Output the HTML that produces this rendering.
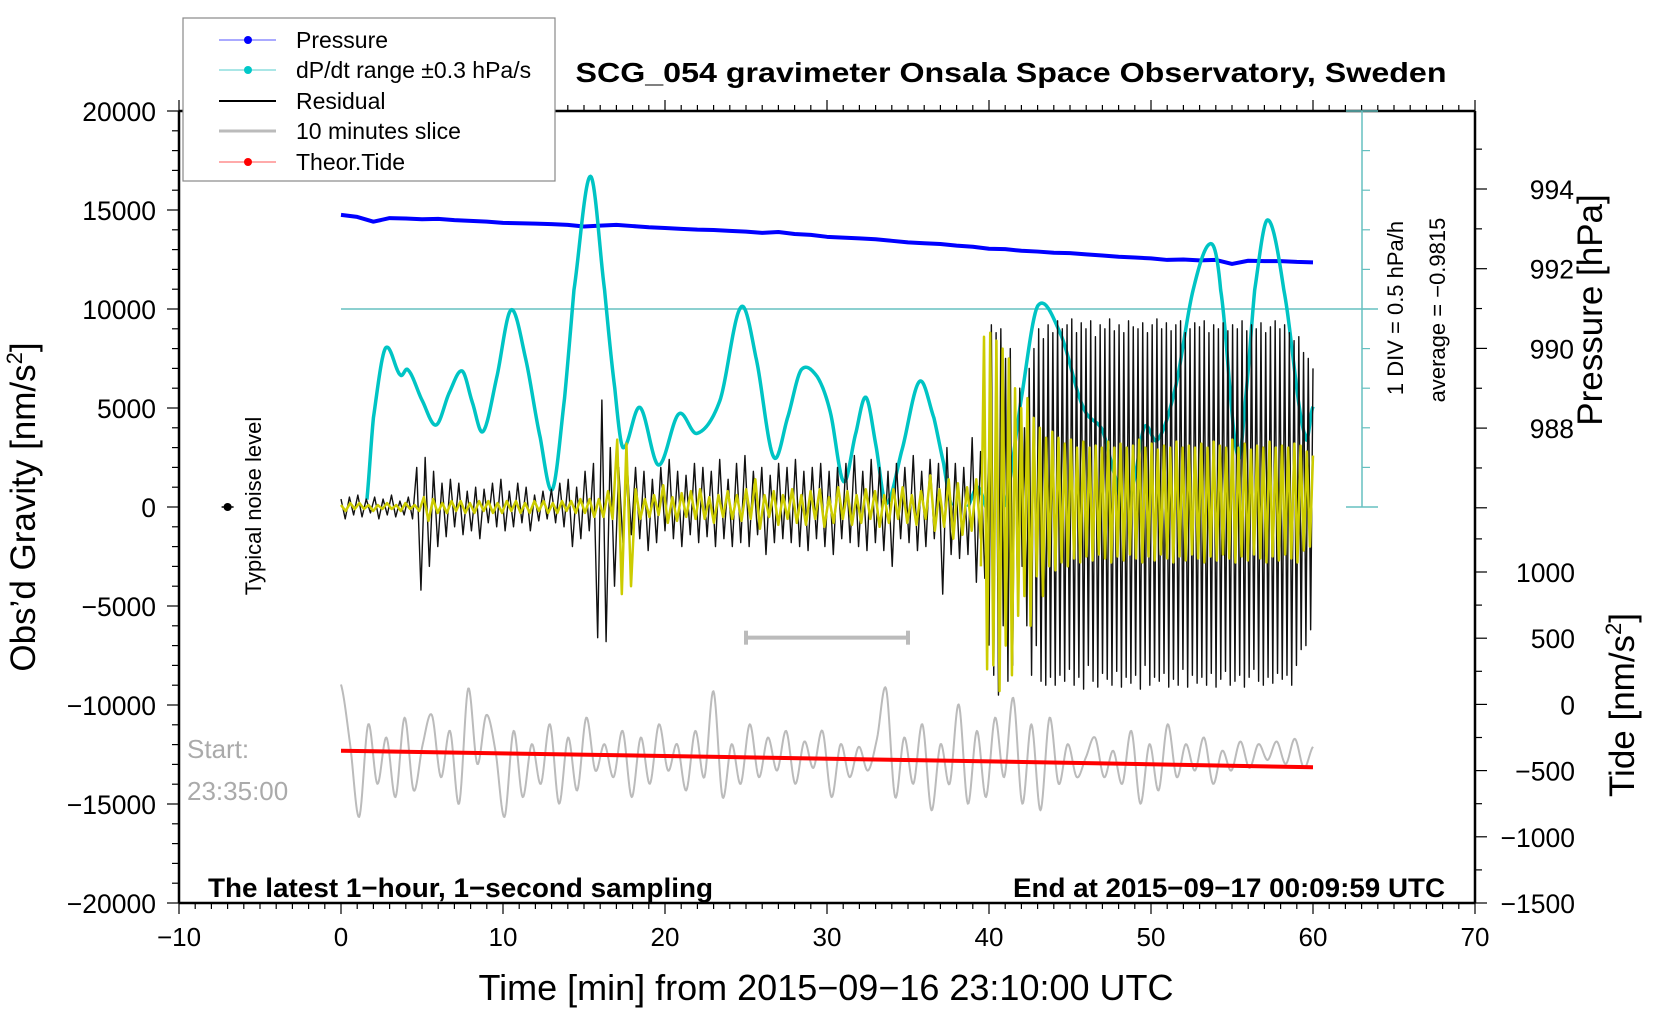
<!DOCTYPE html>
<html><head><meta charset="utf-8"><style>
html,body{margin:0;padding:0;background:#fff;}
svg{display:block;font-family:"Liberation Sans",Arial,sans-serif;}
</style></head><body>
<svg id="chart" width="1676" height="1020" viewBox="0 0 1676 1020" xmlns="http://www.w3.org/2000/svg">
<rect width="1676" height="1020" fill="#fff"/>
<g id="frame"></g>
<g id="marks"></g>
<g id="labels">
<text x="1011" y="82" text-anchor="middle" font-weight="bold" font-size="28" textLength="871" lengthAdjust="spacingAndGlyphs">SCG_054 gravimeter Onsala Space Observatory, Sweden</text>
<text x="826" y="1000" text-anchor="middle" font-size="36">Time [min] from 2015−09−16 23:10:00 UTC</text>
<text transform="translate(35,507) rotate(-90)" text-anchor="middle" font-size="35">Obs’d Gravity [nm/s<tspan font-size="22" dy="-13">2</tspan><tspan dy="13">]</tspan></text>
<text transform="translate(1602,310) rotate(-90)" text-anchor="middle" font-size="35">Pressure [hPa]</text>
<text transform="translate(1634,705) rotate(-90)" text-anchor="middle" font-size="35">Tide [nm/s<tspan font-size="22" dy="-13">2</tspan><tspan dy="13">]</tspan></text>
<text transform="translate(1403,308) rotate(-90)" text-anchor="middle" font-size="22">1 DIV = 0.5 hPa/h</text>
<text transform="translate(1445,310) rotate(-90)" text-anchor="middle" font-size="22">average = −0.9815</text>
<text x="208" y="897" font-weight="bold" font-size="26.5" textLength="505" lengthAdjust="spacingAndGlyphs">The latest 1−hour, 1−second sampling</text>
<text x="1013" y="897" font-weight="bold" font-size="26.5" textLength="432" lengthAdjust="spacingAndGlyphs">End at 2015−09−17 00:09:59 UTC</text>
<text x="187" y="758" font-size="26" fill="#aaa">Start:</text>
<text x="187" y="800" font-size="26" fill="#aaa">23:35:00</text>
<text transform="translate(261,506) rotate(-90)" text-anchor="middle" font-size="22">Typical noise level</text>
</g>
<g id="legend">
<rect x="183" y="18" width="372" height="163" fill="#fff" stroke="#888" stroke-width="1.2"/>
<g><line x1="219" y1="40" x2="276" y2="40" stroke="#5555ff" stroke-width="1"/><circle cx="248" cy="40" r="4" fill="#0000ff"/><text x="296" y="48" font-size="23">Pressure</text></g>
<g><line x1="219" y1="70" x2="276" y2="70" stroke="#55cccc" stroke-width="1"/><circle cx="248" cy="70" r="4" fill="#00c8c8"/><text x="296" y="78" font-size="23">dP/dt range ±0.3 hPa/s</text></g>
<g><line x1="219" y1="101" x2="276" y2="101" stroke="#000" stroke-width="2"/><text x="296" y="109" font-size="23">Residual</text></g>
<g><line x1="219" y1="131" x2="276" y2="131" stroke="#bbb" stroke-width="3"/><text x="296" y="139" font-size="23">10 minutes slice</text></g>
<g><line x1="219" y1="162" x2="276" y2="162" stroke="#ff5555" stroke-width="1"/><circle cx="248" cy="162" r="4" fill="#ff0000"/><text x="296" y="170" font-size="23">Theor.Tide</text></g>
</g>
</svg>
<script>
// ---- data ----
const xTicks = [-10,0,10,20,30,40,50,60,70];
const yTicks = [20000,15000,10000,5000,0,-5000,-10000,-15000,-20000];
const yTickLabels = ["20000","15000","10000","5000","0","−5000","−10000","−15000","−20000"];
const pressureTicks = [994,992,990,988];
const tideTicks = [1000,500,0,-500,-1000,-1500];
const tideTickLabels = ["1000","500","0","−500","−1000","−1500"];

const pressureStart = 0, pressureEnd = 60;
const pressureValues = [993.35,993.30,993.18,993.27,993.26,993.24,993.25,993.22,993.20,993.18,993.15,993.14,993.13,993.12,993.10,993.06,993.08,993.10,993.07,993.04,993.02,993.00,992.98,992.97,992.95,992.93,992.90,992.92,992.87,992.85,992.80,992.78,992.76,992.74,992.70,992.66,992.64,992.62,992.58,992.55,992.50,992.49,992.45,992.43,992.40,992.39,992.36,992.33,992.30,992.28,992.26,992.22,992.23,992.21,992.22,992.12,992.20,992.19,992.19,992.17,992.16];

const dpdtTimes = [1.5,2.0,2.74,3.66,4.14,5.0,5.87,6.7,7.48,8.1,8.76,9.6,10.49,11.37,12.3,13.05,13.8,14.38,15.4,16.27,16.9,17.4,18.45,19.6,20.85,21.98,23.4,24.68,25.6,26.7,27.6,28.4,29.4,30.2,31.03,31.8,32.4,33.0,33.64,34.6,35.7,36.6,37.2,37.6,38.2,38.7,39.3,39.8,40.4,41.0,42.0,43.0,44.4,45.8,47.0,47.8,48.4,49.0,49.6,50.4,51.5,52.6,53.7,54.3,55.35,55.9,56.4,57.2,58.2,59.5,60.0];
const dpdtValues = [-300,4500,8020,6670,6920,5400,4140,5800,6870,5300,3810,6500,9950,7590,3500,890,5500,10960,16700,10960,6000,3000,5030,2120,4700,3720,5400,10085,7600,2540,4600,6920,6580,4800,1280,3800,5540,3200,186,2800,6330,4500,2200,300,-800,0,1000,0,-1500,0,5500,10150,8770,5070,3890,1500,-300,1500,4060,3390,6000,10960,13300,10960,2600,6000,10960,14500,10960,3630,5070];

const residualAStart = 0, residualAEnd = 40;
const residualA = [4,-6,5,-4,6,-5,4,-3,5,-6,4,-4,6,-5,3,-4,5,-6,20,-42,25,-30,18,-20,12,-15,14,-10,12,-14,8,-12,10,-16,9,-8,12,-10,14,-12,8,-10,12,-8,10,-12,6,-7,8,-6,9,-8,12,-10,14,-20,10,-16,18,-12,22,-66,54,-68,30,-40,20,-18,22,-14,20,-16,18,-22,14,-18,20,-12,24,-16,18,-20,16,-14,22,-18,20,-15,18,-20,24,-16,14,-20,22,-18,26,-20,18,-14,20,-24,16,-18,22,-16,20,-18,24,-20,18,-22,20,-16,22,-20,18,-24,20,-16,22,-18,26,-20,18,-22,24,-18,20,-22,18,-30,22,-16,20,-18,26,-22,18,-20,24,-16,22,-44,30,-24,22,-26,20,-24,35,-38,28,-36,30];
const residualBStart = 40, residualBEnd = 60;
const residualB = [-70,92,-85,88,-95,90,-60,75,-88,80,-80,50,-40,60,-30,40,-60,70,-85,80,-70,90,-88,85,-90,92,-86,88,-90,94,-85,90,-88,92,-82,95,-90,88,-86,93,-92,90,-80,94,-88,86,-91,92,-84,90,-87,95,-90,89,-83,92,-91,88,-86,94,-89,91,-85,90,-92,93,-80,88,-90,92,-86,95,-88,90,-84,93,-91,89,-87,92,-90,94,-82,88,-91,90,-85,93,-89,91,-86,94,-90,88,-84,92,-91,90,-87,93,-83,89,-90,92,-88,90,-85,94,-91,89,-86,92,-82,90,-88,93,-90,88,-86,91,-89,94,-84,90,-87,92,-85,88,-90,84,-80,86,-72,78,-70,75,-62,70];

const yellowAStart = 0, yellowAEnd = 39.5;
const yellowA = [1,-2,2,-1,2,-1,1,-2,1,-1,2,-1,1,-2,2,-1,1,-2,5,-7,4,-3,2,-3,3,-2,3,-3,2,-3,3,-2,3,-3,2,-3,3,-2,3,-3,2,-3,3,-2,3,-3,2,-3,3,-2,3,-3,4,-3,4,-5,4,-5,8,-6,34,-44,32,-40,9,-6,4,-5,6,-4,11,-8,5,-7,7,-5,8,-6,9,-6,5,-8,6,-5,8,-6,6,-7,9,-6,14,-11,6,-5,8,-9,6,-6,9,-8,6,-9,8,-6,9,-10,5,-8,10,-6,8,-9,6,-8,9,-6,8,-10,6,-8,9,-6,10,-8,6,-9,8,-6,16,-12,9,-10,14,-16,12,-14,10,-12,14,-16];
const yellowBStart = 39.5, yellowBEnd = 60;
const yellowB = [-30,86,-82,88,-80,84,-93,80,-70,75,-85,60,-55,50,-45,55,-60,45,-35,40,-45,35,-30,38,-32,35,-28,32,-30,34,-26,30,-28,33,-25,30,-27,31,-24,30,-26,33,-28,30,-25,32,-27,30,-24,31,-26,34,-28,30,-25,32,-27,29,-24,31,-26,30,-28,33,-25,30,-27,31,-24,30,-26,32,-28,30,-25,33,-27,31,-24,30,-26,34,-28,30,-25,32,-27,29,-24,31,-26,30,-28,33,-25,30,-27,31,-24,30,-26,32,-28,31,-22,28,-20,26];

const sliceStart = 0, sliceEnd = 60;
const sliceValues = [150,-300,-850,-150,-600,-250,-700,-100,-650,-300,-80,-550,-200,-750,120,-450,-80,-350,-850,-200,-700,-300,-600,-150,-750,-250,-650,-100,-500,-300,-550,-200,-700,-250,-600,-150,-500,-300,-650,-200,-550,100,-700,-300,-600,-150,-550,-250,-500,-200,-600,-280,-480,-200,-700,-300,-550,-320,-500,-260,120,-700,-250,-600,-150,-800,-300,-600,0,-750,-200,-700,-100,-550,50,-750,-150,-800,-100,-600,-300,-550,-400,-250,-550,-350,-600,-200,-750,-300,-650,-150,-550,-300,-500,-250,-600,-350,-500,-280,-480,-300,-420,-280,-450,-260,-480,-320];

const tideTimes = [0,20,40,60];
const tideValues = [-350,-390,-430,-475];

const noiseLevelTime = -7, noiseLevelValue = 0;
const sliceBarStart = 25, sliceBarEnd = 35, sliceBarLevel = -6600;
const dpdtReferenceLevel = 10000;

// ---- axes ----
const X = t => 341 + t * 16.2;
const Yg = g => 507 - g * 0.0198;
const Yp = p => 189 + (994 - p) * 39.85;
const Yt = v => 903 - (v + 1500) * 0.1324;

const NS = "http://www.w3.org/2000/svg";
function mk(tag, parent, attrs) {
  const e = document.createElementNS(NS, tag);
  for (const k in attrs) e.setAttribute(k, attrs[k]);
  parent.appendChild(e);
  return e;
}
const frame = document.getElementById('frame');
const marks = document.getElementById('marks');

let el = mk('line', frame, {x1:179,y1:903,x2:1475,y2:903,stroke:'#000','stroke-width':2.5});


el = mk('line', frame, {x1:179,y1:111,x2:1475,y2:111,stroke:'#000','stroke-width':2.5});


el = mk('line', frame, {x1:179,y1:111,x2:179,y2:903,stroke:'#000','stroke-width':2.5});


el = mk('line', frame, {x1:1475,y1:111,x2:1475,y2:903,stroke:'#000','stroke-width':2.5});



for (let t = -10; t <= 70; t++) {
  const major = t % 10 === 0;
  mk('line', frame, {x1:X(t),y1:903,x2:X(t),y2:903+(major?11:6),stroke:'#000','stroke-width':1.2});
  mk('line', frame, {x1:X(t),y1:111,x2:X(t),y2:111-(major?11:6),stroke:'#000','stroke-width':1.2});
}
xTicks.forEach(t => {
  const tx = mk('text', frame, {x:X(t),y:946,'text-anchor':'middle','font-size':26});
  tx.textContent = (t < 0 ? '−' + (-t) : String(t));
  
  
});
for (let g = -20000; g <= 20000; g += 1000) {
  const major = g % 5000 === 0;
  mk('line', frame, {x1:179-(major?12:7),y1:Yg(g),x2:179,y2:Yg(g),stroke:'#000','stroke-width':1.2});
}
yTicks.forEach((g, i) => {
  const tx = mk('text', frame, {x:156,y:Yg(g)+10,'text-anchor':'end','font-size':26.5});
  tx.textContent = yTickLabels[i];
  
  
});
for (let p = 996; p >= 986; p--) {
  const y = Yp(p);
  if (y < 112) continue;
  const major = p % 2 === 0;
  mk('line', frame, {x1:1475,y1:y,x2:1475+(major?12:7),y2:y,stroke:'#000','stroke-width':1.2});
}
pressureTicks.forEach(p => {
  const tx = mk('text', frame, {x:1574,y:Yp(p)+10,'text-anchor':'end','font-size':26.5});
  tx.textContent = String(p);
  
  
});
for (let v = -1500; v <= 1250; v += 250) {
  const major = v % 500 === 0;
  mk('line', frame, {x1:1475,y1:Yt(v),x2:1475+(major?12:7),y2:Yt(v),stroke:'#000','stroke-width':1.2});
}
tideTicks.forEach((v, i) => {
  const tx = mk('text', frame, {x:1575,y:Yt(v)+10,'text-anchor':'end','font-size':26.5});
  tx.textContent = tideTickLabels[i];
  
  
});

el = mk('line', marks, {x1:X(0),y1:Yg(dpdtReferenceLevel),x2:1378,y2:Yg(dpdtReferenceLevel),stroke:'#66c0c0','stroke-width':1.5});


el = mk('line', marks, {x1:1362,y1:111,x2:1362,y2:Yg(0),stroke:'#66c0c0','stroke-width':1.5});


mk('line', marks, {x1:1346,y1:111,x2:1378,y2:111,stroke:'#66c0c0','stroke-width':1.5});
mk('line', marks, {x1:1346,y1:Yg(0),x2:1378,y2:Yg(0),stroke:'#66c0c0','stroke-width':1.5});
for (let k = 1; k < 10; k++) {
  const y = Yg(0) + (111 - Yg(0)) * k / 10;
  mk('line', marks, {x1:1362,y1:y,x2:1370,y2:y,stroke:'#66c0c0','stroke-width':1.2});
}

function seriesPts(vals, t0, t1, yf) {
  const n = vals.length, pts = [];
  vals.forEach((v, i) => pts.push([X(t0 + (t1 - t0) * i / (n - 1)), yf(v)]));
  return pts;
}
const pp = seriesPts(pressureValues, pressureStart, pressureEnd, Yp);
el = mk('polyline', marks, {points:pp.map(p=>p.join(',')).join(' '),fill:'none',stroke:'#0000ff','stroke-width':4,'stroke-linejoin':'round'});



function catmull(ts, vs, step) {
  const out = [];
  for (let i = 0; i < ts.length - 1; i++) {
    const p0 = vs[Math.max(0,i-1)], p1 = vs[i], p2 = vs[i+1], p3 = vs[Math.min(vs.length-1,i+2)];
    const n = Math.max(2, Math.ceil((ts[i+1]-ts[i]) / step));
    for (let k = 0; k < n; k++) {
      const u = k / n;
      const v = 0.5*((2*p1)+(-p0+p2)*u+(2*p0-5*p1+4*p2-p3)*u*u+(-p0+3*p1-3*p2+p3)*u*u*u);
      out.push([ts[i] + (ts[i+1]-ts[i]) * u, v]);
    }
  }
  out.push([ts[ts.length-1], vs[vs.length-1]]);
  return out;
}
const cs = catmull(dpdtTimes, dpdtValues, 0.05);
let seg = [];
const segs = [];
cs.forEach(([t, v]) => {
  if (v >= 0) seg.push([X(t), Yg(v)]);
  else { if (seg.length > 1) segs.push(seg); seg = []; }
});
if (seg.length > 1) segs.push(seg);
segs.forEach(s => {
  const pl = mk('polyline', marks, {points:s.map(p=>p.join(',')).join(' '),fill:'none',stroke:'#00c4c4','stroke-width':3.5,'stroke-linejoin':'round'});
  
  
});

function drawSeries(vals, t0, t1, scale, color, width) {
  const pts = seriesPts(vals, t0, t1, v => Yg(v * scale));
  return mk('polyline', marks, {points:pts.map(p=>p.join(',')).join(' '),fill:'none',stroke:color,'stroke-width':width,'stroke-linejoin':'round'});
}
el = drawSeries(residualA, residualAStart, residualAEnd, 100, '#111', 1.4);


el = drawSeries(residualB, residualBStart, residualBEnd, 100, '#111', 1.4);


el = drawSeries(yellowA, yellowAStart, yellowAEnd, 100, '#cccc00', 2.5);


el = drawSeries(yellowB, yellowBStart, yellowBEnd, 100, '#cccc00', 2.5);



const sliceT = sliceValues.map((v, i) => sliceStart + (sliceEnd - sliceStart) * i / (sliceValues.length - 1));
const ss = catmull(sliceT, sliceValues, 0.05);
el = mk('polyline', marks, {points:ss.map(([t,v]) => X(t)+','+Yt(v)).join(' '),fill:'none',stroke:'#bbb','stroke-width':2,'stroke-linejoin':'round'});



const tp = tideTimes.map((t, i) => [X(t), Yt(tideValues[i])]);
el = mk('polyline', marks, {points:tp.map(p=>p.join(',')).join(' '),fill:'none',stroke:'#ff0000','stroke-width':4});



el = mk('g', marks, {});


mk('line', el, {x1:X(sliceBarStart),y1:Yg(sliceBarLevel),x2:X(sliceBarEnd),y2:Yg(sliceBarLevel),stroke:'#bbb','stroke-width':4});
mk('line', el, {x1:X(sliceBarStart),y1:Yg(sliceBarLevel)-7,x2:X(sliceBarStart),y2:Yg(sliceBarLevel)+7,stroke:'#bbb','stroke-width':4});
mk('line', el, {x1:X(sliceBarEnd),y1:Yg(sliceBarLevel)-7,x2:X(sliceBarEnd),y2:Yg(sliceBarLevel)+7,stroke:'#bbb','stroke-width':4});

el = mk('circle', marks, {cx:X(noiseLevelTime),cy:Yg(noiseLevelValue),r:4,fill:'#000'});


mk('line', marks, {x1:X(noiseLevelTime)-6,y1:Yg(noiseLevelValue),x2:X(noiseLevelTime)+6,y2:Yg(noiseLevelValue),stroke:'#000','stroke-width':1.5});
</script>
</body></html>
